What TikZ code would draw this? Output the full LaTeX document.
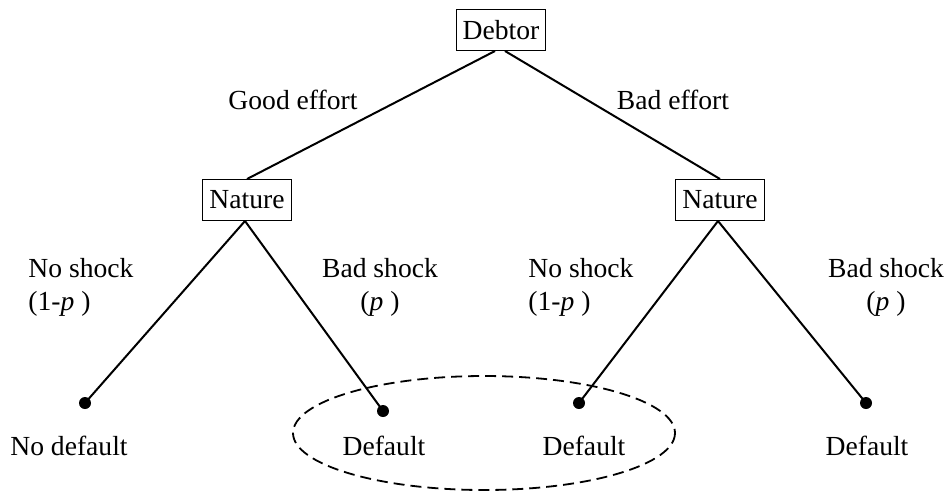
\documentclass[tikz,border=0pt]{standalone}
\usepackage{fontspec}
\setmainfont{Liberation Serif}

\begin{document}
\begin{tikzpicture}[x=0.5pt,y=-0.5pt,
    jugador/.style={draw,line width=0.5pt,inner xsep=3.3pt,minimum height=20.5pt},
    hoja/.style={circle,fill,inner sep=0pt,minimum size=6pt},
    rama/.style={line width=1pt},
    texto/.style={inner sep=0pt,font=\fontsize{13.8}{16.5}\selectfont}]

      % Marco del dibujo
      \useasboundingbox (0,0) rectangle (948,495);

      % Jugadores
      \node[jugador,texto,inner xsep=3.3pt,inner ysep=0pt] (deudor) at (501,30) {Debtor};
      \node[jugador,texto,inner xsep=3.3pt,inner ysep=0pt] (natA) at (247,200) {Nature};
      \node[jugador,texto,inner xsep=3.3pt,inner ysep=0pt] (natB) at (720,200) {Nature};

      % Nodos finales
      \node[hoja] (h1) at (85,403) {};
      \node[hoja] (h2) at (383,411) {};
      \node[hoja] (h3) at (579,403) {};
      \node[hoja] (h4) at (866,403) {};

      % Ramas del arbol
      \draw[rama] ([xshift=-3pt]deudor.south) -- (natA.north);
      \draw[rama] ([xshift=2pt]deudor.south) -- (natB.north);
      \foreach \n/\a/\b in {natA/h1/h2,natB/h3/h4} { % dos ramas por nodo
        \draw[rama] ([xshift=-1pt]\n.south) -- (\a.center);
        \draw[rama] ([xshift=-1pt]\n.south) -- (\b.center);
      }

      % Etiquetas de las acciones
      \node[texto] (esfB) at (293,100) {Good effort};
      \node[texto] (esfM) at (673,100) {Bad effort};
      \node[texto,anchor=west,align=left] (sinA) at (28,287) {No shock\\(1-\textit{p}\ )};
      \node[texto,align=center] (malA) at (380,287) {Bad shock\\(\textit{p}\ )};
      \node[texto,anchor=west,align=left] (sinB) at (528,287) {No shock\\(1-\textit{p}\ )};
      \node[texto,align=center] (malB) at (886,287) {Bad shock\\(\textit{p}\ )};

      % Resultados
      \node[texto] (r1) at (69,446) {No default};
      \node[texto] (r2) at (384,446) {Default};
      \node[texto] (r3) at (584,446) {Default};
      \node[texto] (r4) at (867,446) {Default};

      % Conjunto de informacion
      \draw[line width=0.9pt,dash pattern=on 5.5pt off 3pt] (484,433) ellipse [x radius=191, y radius=57];

    \end{tikzpicture}
\end{document}
